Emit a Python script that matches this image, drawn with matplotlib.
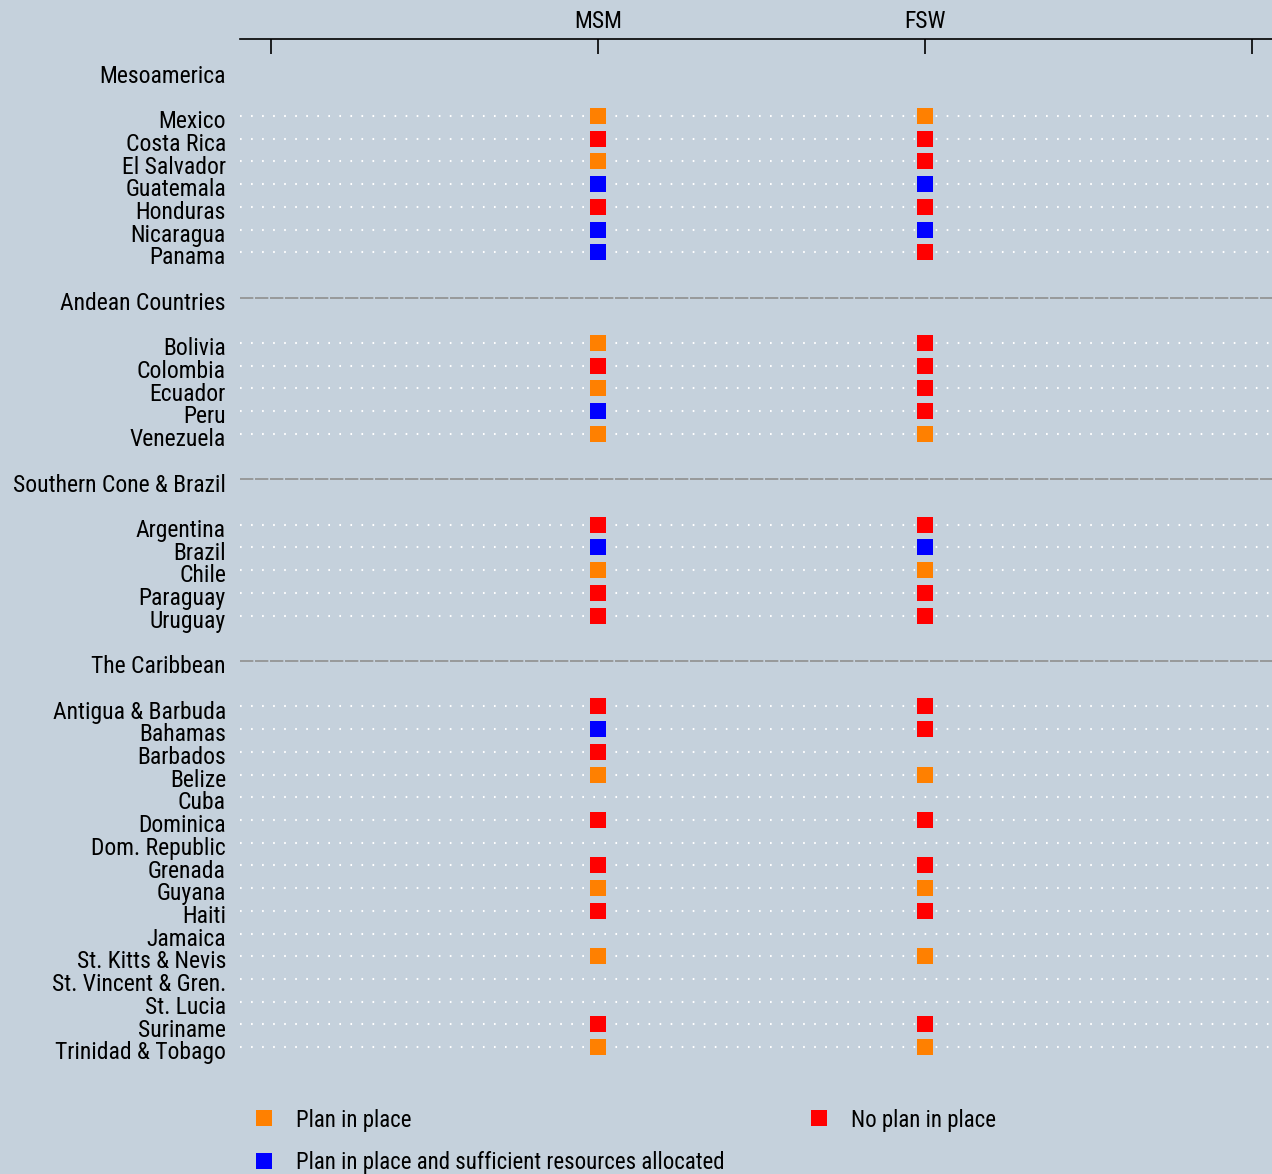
import numpy as np
import matplotlib.pyplot as plt
from matplotlib.lines import Line2D
from matplotlib.transforms import blended_transform_factory

plt.rcParams['font.family'] = ['Arial Narrow', 'Liberation Sans Narrow', 'Roboto Condensed',
                               'Archivo Narrow', 'PT Sans Narrow', 'Pragati Narrow', 'DejaVu Sans']

# region groups and countries
regions = ['Mesoamerica', 'Andean Countries', 'Southern Cone & Brazil', 'The Caribbean']
mesoamerica = ['Mexico', 'Costa Rica', 'El Salvador', 'Guatemala', 'Honduras', 'Nicaragua', 'Panama']
andean = ['Bolivia', 'Colombia', 'Ecuador', 'Peru', 'Venezuela']
southern = ['Argentina', 'Brazil', 'Chile', 'Paraguay', 'Uruguay']
caribbean = ['Antigua & Barbuda', 'Bahamas', 'Barbados', 'Belize', 'Cuba', 'Dominica',
             'Dom. Republic', 'Grenada', 'Guyana', 'Haiti', 'Jamaica', 'St. Kitts & Nevis',
             'St. Vincent & Gren.', 'St. Lucia', 'Suriname', 'Trinidad & Tobago']

# status codes: P = plan in place, N = no plan, S = plan + resources, '' = no data
msm_status = ['P', 'N', 'P', 'S', 'N', 'S', 'S',
              'P', 'N', 'P', 'S', 'P',
              'N', 'S', 'P', 'N', 'N',
              'N', 'S', 'N', 'P', '', 'N', '', 'N', 'P', 'N', '', 'P', '', '', 'N', 'P']
fsw_status = ['P', 'N', 'N', 'S', 'N', 'S', 'N',
              'N', 'N', 'N', 'N', 'P',
              'N', 'S', 'P', 'N', 'N',
              'N', 'N', '', 'P', '', 'N', '', 'N', 'P', 'N', '', 'P', '', '', 'N', 'P']

columns = ['MSM', 'FSW']
status_colors = {'P': '#FF8000', 'N': '#FF0000', 'S': '#0000FF'}
legend_labels = {'P': 'Plan in place', 'N': 'No plan in place',
                 'S': 'Plan in place and sufficient resources allocated'}

bg = '#C5D1DC'

# build row positions: header, blank, countries, blank, header ...
groups = [mesoamerica, andean, southern, caribbean]
header_pos = []
country_pos = []
countries = []
y = 0
for grp in groups:
    header_pos.append(y)
    y += 2
    for c in grp:
        country_pos.append(y)
        countries.append(c)
        y += 1
    y += 1

fig = plt.figure(figsize=(12.72, 11.74), dpi=100, facecolor=bg)
ax = fig.add_axes([240 / 1272, 1 - 1075 / 1174, 1 - 240 / 1272, (1075 - 39) / 1174])
ax.set_facecolor(bg)
ax.set_xlim(-0.095, 3.06)
ax.set_ylim(44.23, -1.39)

for yp in country_pos:
    ax.axhline(yp, color='white', lw=1.5, linestyle=(0, (0.8, 4.5)), zorder=1)
for yp in header_pos[1:]:
    ax.axhline(yp, color='#8f8f8f', lw=1.2, linestyle=(0, (8, 1)), zorder=1)

for xi, statuses in zip([1, 2], [msm_status, fsw_status]):
    for yp, s in zip(country_pos, statuses):
        if s:
            ax.plot(xi, yp, marker='s', ms=11.5, color=status_colors[s],
                    markeredgewidth=0, zorder=3)

trans = blended_transform_factory(fig.transFigure, ax.transData)
lx = 226 / 1272
for yp, name in zip(header_pos, regions):
    ax.text(lx, yp + 0.25, name, transform=trans, ha='right', va='center', fontsize=17)
for yp, name in zip(country_pos, countries):
    ax.text(lx, yp + 0.25, name, transform=trans, ha='right', va='center', fontsize=17)

for side in ['left', 'right', 'bottom']:
    ax.spines[side].set_visible(False)
ax.spines['top'].set_linewidth(1.2)
ax.xaxis.tick_top()
ax.set_xticks([0, 1, 2, 3])
ax.set_xticklabels(['', columns[0], columns[1], ''], fontsize=17)
ax.tick_params(axis='x', direction='in', length=11, width=1.2, pad=4)
ax.set_yticks([])

handles = [Line2D([], [], marker='s', ms=11, lw=0, color=status_colors[k], markeredgewidth=0)
           for k in ['P', 'S', 'N']]
labels = [legend_labels[k] for k in ['P', 'S', 'N']]
fig.legend(handles, labels, loc='upper left', bbox_to_anchor=(252.5 / 1272, 1 - 1108.5 / 1174),
           ncol=2, frameon=False, fontsize=16.5, handlelength=1.0, handletextpad=0.9,
           columnspacing=3.6, labelspacing=0.87, borderpad=0, borderaxespad=0)

fig.savefig('out.png', dpi=100, facecolor=bg)
